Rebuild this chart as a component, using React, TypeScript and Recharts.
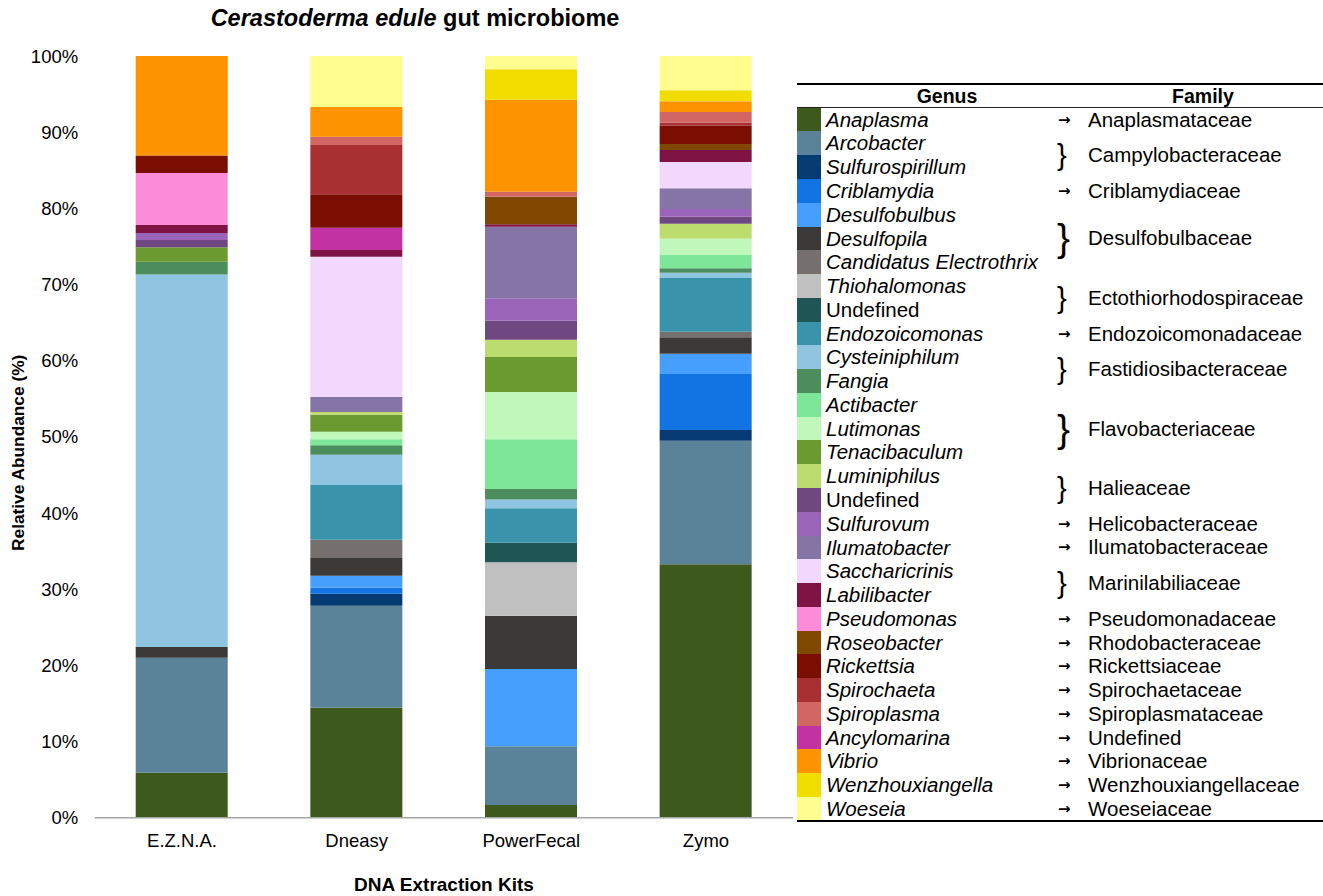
import React from 'react'
import { BarChart, Bar, XAxis, YAxis, Legend, Label } from 'recharts'

const FONT = '"Liberation Sans", Arial, Helvetica, sans-serif'

const kits = ['E.Z.N.A.', 'Dneasy', 'PowerFecal', 'Zymo']

const genera = [
  'Anaplasma', 'Arcobacter', 'Sulfurospirillum', 'Criblamydia', 'Desulfobulbus',
  'Desulfopila', 'Candidatus Electrothrix', 'Thiohalomonas', 'Undefined', 'Endozoicomonas',
  'Cysteiniphilum', 'Fangia', 'Actibacter', 'Lutimonas', 'Tenacibaculum',
  'Luminiphilus', 'Undefined', 'Sulfurovum', 'Ilumatobacter', 'Saccharicrinis',
  'Labilibacter', 'Pseudomonas', 'Roseobacter', 'Rickettsia', 'Spirochaeta',
  'Spiroplasma', 'Ancylomarina', 'Vibrio', 'Wenzhouxiangella', 'Woeseia'
]

const genusColors = [
  '#3d5a1c', '#5a8299', '#063a73', '#1273e2', '#469ffd',
  '#3b3a39', '#75706e', '#c0c0c0', '#1f5655', '#3994ab',
  '#8fc5e1', '#4c8d5e', '#7de698', '#c0f8bc', '#6a9a30',
  '#bddc6e', '#6f4882', '#9a65b8', '#8475a6', '#f2d8fc',
  '#7f1444', '#fd8cd8', '#814801', '#7b0e02', '#a83032',
  '#d16662', '#c232a2', '#fe9300', '#f1dd00', '#fefd8d'
]

// family column: first genus row, number of rows
const families = [
  { name: 'Anaplasmataceae', first: 0, rows: 1 },
  { name: 'Campylobacteraceae', first: 1, rows: 2 },
  { name: 'Criblamydiaceae', first: 3, rows: 1 },
  { name: 'Desulfobulbaceae', first: 4, rows: 3 },
  { name: 'Ectothiorhodospiraceae', first: 7, rows: 2 },
  { name: 'Endozoicomonadaceae', first: 9, rows: 1 },
  { name: 'Fastidiosibacteraceae', first: 10, rows: 2 },
  { name: 'Flavobacteriaceae', first: 12, rows: 3 },
  { name: 'Halieaceae', first: 15, rows: 2 },
  { name: 'Helicobacteraceae', first: 17, rows: 1 },
  { name: 'Ilumatobacteraceae', first: 18, rows: 1 },
  { name: 'Marinilabiliaceae', first: 19, rows: 2 },
  { name: 'Pseudomonadaceae', first: 21, rows: 1 },
  { name: 'Rhodobacteraceae', first: 22, rows: 1 },
  { name: 'Rickettsiaceae', first: 23, rows: 1 },
  { name: 'Spirochaetaceae', first: 24, rows: 1 },
  { name: 'Spiroplasmataceae', first: 25, rows: 1 },
  { name: 'Undefined', first: 26, rows: 1 },
  { name: 'Vibrionaceae', first: 27, rows: 1 },
  { name: 'Wenzhouxiangellaceae', first: 28, rows: 1 },
  { name: 'Woeseiaceae', first: 29, rows: 1 }
]

// relative abundance (%) per genus, in legend order
const eznaValues = [
  5.9, 15.1, 0, 0, 0, 1.4, 0, 0, 0, 0,
  48.9, 1.7, 0, 0, 1.9, 0, 0.95, 0.9, 0, 0,
  1.05, 6.85, 0, 2.3, 0, 0, 0, 13.05, 0, 0
]
const dneasyValues = [
  14.44, 13.39, 1.58, 0.79, 1.57, 2.33, 2.4, 0, 0, 7.18,
  3.98, 1.23, 0.79, 1.0, 2.23, 0.35, 0, 0, 1.97, 18.42,
  0.88, 0, 0, 4.38, 6.48, 1.09, 2.93, 3.89, 0, 6.7
]
const powerFecalValues = [
  1.67, 7.7, 0, 0, 10.15, 7.0, 0, 7.01, 2.57, 4.53,
  1.13, 1.39, 6.53, 6.21, 4.59, 2.28, 2.49, 2.94, 9.4, 0,
  0.31, 0, 3.63, 0, 0, 0.66, 0, 12.08, 3.98, 1.75
]
const zymoValues = [
  33.27, 16.23, 1.4, 7.35, 2.67, 2.15, 0.74, 0, 0, 7.05,
  0.69, 0.58, 1.74, 2.14, 0, 1.97, 0.92, 1.01, 2.72, 3.45,
  1.58, 0, 0.79, 2.4, 0.39, 1.41, 0, 1.4, 1.45, 4.5
]

// order the segments are stacked in, bottom to top
const stackOrder = [
  0, 1, 2, 3, 4, 5, 6, 7, 8, 9, 10, 11, 12, 13, 14, 15, 16, 17, 18, 19, 20,
  21, 26, 22, 23, 24, 25, 27, 28, 29
]

const yTicks = [0, 10, 20, 30, 40, 50, 60, 70, 80, 90, 100]

const kitValues = [eznaValues, dneasyValues, powerFecalValues, zymoValues]

const data = kits.map((kit, k) => {
  const row: Record<string, string | number> = { kit }
  genera.forEach((_, i) => {
    row['g' + i] = kitValues[k][i]
  })
  return row
})

const HEAD_H = 24.7
const ROW_H = 23.77
const LEGEND_W = 526

function GenusTable() {
  const rowTop = (i: number) => HEAD_H + i * ROW_H
  return (
    <div style={{ position: 'relative', width: LEGEND_W, height: 742, fontFamily: FONT, fontSize: 20.5, color: '#000' }}>
      <div style={{ position: 'absolute', left: 0, top: 0, width: LEGEND_W, height: 2, background: '#000' }} />
      <div style={{ position: 'absolute', left: 0, top: 2, width: 300, height: 22, lineHeight: '22px', textAlign: 'center', fontWeight: 'bold', fontSize: 19.5 }}>
        Genus
      </div>
      <div style={{ position: 'absolute', left: 306, top: 2, width: 200, height: 22, lineHeight: '22px', textAlign: 'center', fontWeight: 'bold', fontSize: 19.5 }}>
        Family
      </div>
      <div style={{ position: 'absolute', left: 0, top: 23.5, width: LEGEND_W, height: 1.2, background: '#222' }} />

      {genera.map((g, i) => (
        <React.Fragment key={'row-' + i}>
          <div style={{ position: 'absolute', left: 0, top: rowTop(i), width: 24, height: ROW_H + 0.4, background: genusColors[i] }} />
          <div
            style={{
              position: 'absolute', left: 29, top: rowTop(i), height: ROW_H, lineHeight: ROW_H + 'px',
              fontStyle: g === 'Undefined' ? 'normal' : 'italic', whiteSpace: 'nowrap'
            }}
          >
            {g}
          </div>
        </React.Fragment>
      ))}

      {families.map(f => {
        const center = HEAD_H + (f.first + f.rows / 2) * ROW_H
        return (
          <React.Fragment key={f.name + f.first}>
            {f.rows === 1 ? (
              <div
                style={{
                  position: 'absolute', left: 261, top: center - 15, height: 30, lineHeight: '30px',
                  fontSize: 15, fontFamily: '"DejaVu Sans", sans-serif', fontWeight: 'bold'
                }}
              >
                →
              </div>
            ) : (
              <div
                style={{
                  position: 'absolute', left: 260, top: center - 30, height: 60, lineHeight: '60px',
                  fontSize: f.rows === 2 ? 29 : 39
                }}
              >
                {'}'}
              </div>
            )}
            <div style={{ position: 'absolute', left: 291, top: center - 15, height: 30, lineHeight: '30px', whiteSpace: 'nowrap' }}>
              {f.name}
            </div>
          </React.Fragment>
        )
      })}

      <div style={{ position: 'absolute', left: 0, top: 737, width: LEGEND_W, height: 2, background: '#000' }} />
    </div>
  )
}

export default function App() {
  return (
    <div style={{ position: 'absolute', left: 0, top: 0, width: 1323, height: 896, fontFamily: FONT, background: '#fff' }}>
      <BarChart
        width={1323}
        height={896}
        data={data}
        margin={{ top: 56, right: 529.7, left: 14.7, bottom: 0.3 }}
        barSize={92}
      >
        <XAxis
          dataKey="kit"
          height={78}
          axisLine={{ stroke: '#a6a6a6', strokeWidth: 1.5 }}
          tickLine={false}
          tickSize={0}
          tickMargin={16}
          tick={{ fill: '#000', fontSize: 18.5, fontFamily: FONT }}
        >
          <Label
            content={(props: any) => {
              const vb = props.viewBox
              return (
                <text
                  x={vb.x + vb.width / 2}
                  y={vb.y + 67}
                  textAnchor="middle"
                  dominantBaseline="central"
                  fontWeight="bold"
                  fontSize={19}
                  fontFamily={FONT}
                  fill="#000"
                >
                  DNA Extraction Kits
                </text>
              )
            }}
          />
        </XAxis>
        <YAxis
          type="number"
          domain={[0, 100]}
          ticks={yTicks}
          width={80}
          axisLine={false}
          tickLine={false}
          tickSize={0}
          tickMargin={16.5}
          tickFormatter={(v: number) => `${v}%`}
          tick={{ fill: '#000', fontSize: 18.5, fontFamily: FONT }}
          interval={0}
        >
          <Label
            content={(props: any) => {
              const vb = props.viewBox
              const cx = 18
              const cy = vb.y + vb.height / 2 + 16
              return (
                <text
                  x={cx}
                  y={cy}
                  transform={`rotate(-90 ${cx} ${cy})`}
                  textAnchor="middle"
                  dominantBaseline="central"
                  fontWeight="bold"
                  fontSize={17.3}
                  fontFamily={FONT}
                  fill="#000"
                >
                  Relative Abundance (%)
                </text>
              )
            }}
          />
        </YAxis>
        <Legend
          layout="vertical"
          align="center"
          verticalAlign="middle"
          content={() => <GenusTable />}
          wrapperStyle={{ left: 797, top: 83, width: LEGEND_W, height: 742 }}
        />
        {stackOrder.map(i => (
          <Bar
            key={'g' + i}
            dataKey={'g' + i}
            name={genera[i]}
            stackId="kit"
            fill={genusColors[i]}
            isAnimationActive={false}
          />
        ))}
      </BarChart>
      <div
        style={{
          position: 'absolute', left: 115, top: 4, width: 600, textAlign: 'center',
          fontSize: 23.5, lineHeight: '28px', fontWeight: 'bold', color: '#000'
        }}
      >
        <i>Cerastoderma edule</i> gut microbiome
      </div>
    </div>
  )
}
